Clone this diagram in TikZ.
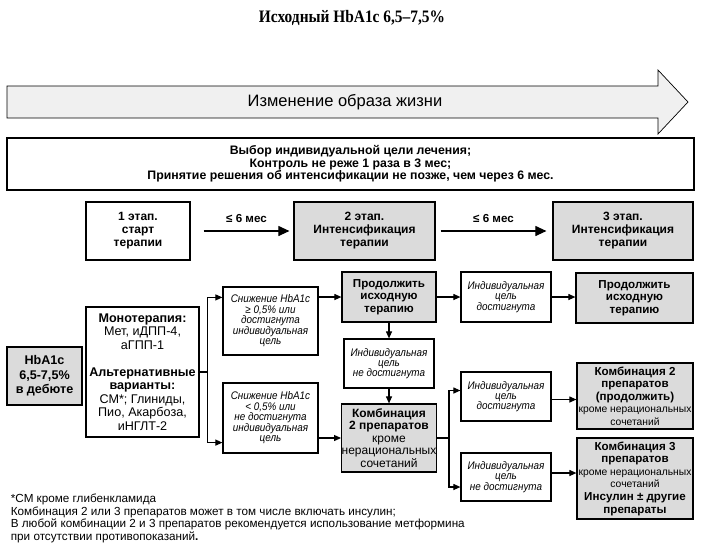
\documentclass[tikz,border=0pt]{standalone}
\usepackage{fontspec}
\setmainfont{Liberation Sans}
\newfontfamily\titlefont[FakeStretch=0.88]{Liberation Serif}
\newfontfamily\narrowfont[FakeStretch=0.9]{Liberation Sans}
\usepackage{tikz}
\usetikzlibrary{shapes, positioning, arrows.meta}

\definecolor{boxgray}{gray}{0.86}
\definecolor{arrowgray}{gray}{0.94}

\begin{document}
\begin{tikzpicture}[->,
x=1pt, y=-1pt,
line width=1.1pt,
>={Triangle[length=7pt,width=6pt]},
big/.style={-{Triangle[length=11pt,width=10pt]}},
block/.style={draw, rectangle, inner sep=0pt, align=center, line width=1.2pt},
wbox/.style={block, fill=white},
gbox/.style={block, fill=boxgray},
bold/.style={font=\fontsize{11.6}{12.6}\selectfont\bfseries},
stage/.style={minimum height=58pt, font=\fontsize{12}{13}\selectfont\bfseries},
note/.style={font=\narrowfont\fontsize{11}{10.2}\selectfont\itshape},
plain/.style={font=\fontsize{12}{12.4}\selectfont}]

\useasboundingbox (0,0) rectangle (712,558);

% heading and lifestyle arrow
\node[font=\titlefont\bfseries\fontsize{17.5}{19}\selectfont]	(title) at (352,18)	{Исходный HbA1c 6,5–7,5\%};
\draw[-, fill=arrowgray, line width=0.7pt] (7,86) -- (658,86) -- (658,70) -- (688,102) -- (658,134) -- (658,118) -- (7,118) -- cycle;
\node[font=\fontsize{16.5}{18}\selectfont]	(life) at (345,102)	{Изменение образа жизни};

\node[wbox, font=\fontsize{12.3}{12.6}\selectfont\bfseries, minimum width=687pt, minimum height=52pt]	(goal) at (350.5,164)	{Выбор индивидуальной цели лечения;\\ Контроль не реже 1 раза в 3 мес;\\ Принятие решения об интенсификации не позже, чем через 6 мес.};

% stages
\node[wbox, stage, minimum width=104pt]	(st1) at (138,231)	{1 этап.\\ старт\\ терапии};
\node[gbox, stage, minimum width=141pt]	(st2) at (364.5,231)	{2 этап.\\ Интенсификация\\ терапии};
\node[gbox, stage, minimum width=140pt]	(st3) at (623,231)	{3 этап.\\ Интенсификация\\ терапии};

% start of therapy
\node[gbox, font=\fontsize{12.6}{14.5}\selectfont\bfseries, minimum width=75pt, minimum height=58pt]	(hba) at (44.5,376)	{HbA1c\\ 6,5-7,5\%\\ в дебюте};
\node[wbox, font=\fontsize{12.6}{13.5}\selectfont, minimum width=113pt, minimum height=130pt]	(mono) at (142.5,372)	{\textbf{Монотерапия:}\\ Мет, иДПП-4,\\ аГПП-1\\[13.5pt] \textbf{Альтернативные}\\ \textbf{варианты:}\\ СМ*; Глиниды,\\ Пио, Акарбоза,\\ иНГЛТ-2};

\node[wbox, note, minimum width=95pt, minimum height=68pt]	(dec1) at (270.5,321)	{Снижение HbA1c\\ ≥ 0,5\% или\\ достигнута\\ индивидуальная\\ цель};
\node[wbox, note, minimum width=95pt, minimum height=70pt]	(dec2) at (270.5,418)	{Снижение HbA1c\\ < 0,5\% или\\ не достигнута\\ индивидуальная\\ цель};

% second stage
\node[gbox, bold, minimum width=94pt, minimum height=50pt]	(cont2) at (389,297)	{Продолжить\\ исходную\\ терапию};
\node[wbox, note, minimum width=90pt, minimum height=49pt]	(miss2) at (389,363.5)	{Индивидуальная\\ цель\\ не достигнута};
\node[gbox, plain, minimum width=94pt, minimum height=68pt]	(comb2) at (389,438)	{\textbf{Комбинация}\\ \textbf{2 препаратов}\\ кроме\\ нерациональных\\ сочетаний};

% third stage
\node[wbox, note, minimum width=90pt, minimum height=50pt]	(hit3) at (506,297)	{Индивидуальная\\ цель\\ достигнута};
\node[gbox, bold, minimum width=117pt, minimum height=50pt]	(cont3) at (634.5,298)	{Продолжить\\ исходную\\ терапию};
\node[wbox, note, minimum width=90pt, minimum height=49pt]	(hit3b) at (506,396.5)	{Индивидуальная\\ цель\\ достигнута};
\node[wbox, note, minimum width=90pt, minimum height=48pt]	(miss3) at (506,477)	{Индивидуальная\\ цель\\ не достигнута};
\node[gbox, bold, minimum width=116pt, minimum height=66pt]	(comb2c) at (635,396)	{Комбинация 2\\ препаратов\\ (продолжить)\\ {\mdseries\fontsize{10.3}{11.5}\selectfont кроме нерациональных}\\ {\mdseries\fontsize{10.3}{11.5}\selectfont сочетаний}};
\node[gbox, bold, minimum width=116pt, minimum height=81pt]	(comb3) at (635,478.5)	{Комбинация 3\\ препаратов\\ {\mdseries\fontsize{10.3}{11.5}\selectfont кроме нерациональных}\\ {\mdseries\fontsize{10.3}{11.5}\selectfont сочетаний}\\ Инсулин ± другие\\ препараты};

% footnote
\node[anchor=north west, align=left, font=\fontsize{11.7}{12.6}\selectfont]	(foot) at (7,490)	{*СМ кроме глибенкламида\\ Комбинация 2 или 3 препаратов может в том числе включать инсулин;\\ В любой комбинации 2 и 3 препаратов рекомендуется использование метформина\\ при отсутствии противопоказаний\textbf{.}};

% connectors
\path[big]
 ([xshift=13pt]st1.east)	edge node[above=5pt, font=\fontsize{11.6}{13}\selectfont\bfseries]	{≤ 6 мес}	([xshift=-4pt]st2.west)
 ([xshift=5pt]st2.east)		edge node[above=5pt, font=\fontsize{11.6}{13}\selectfont\bfseries]	{≤ 6 мес}	([xshift=-6pt]st3.west);

\draw[-] (mono.east) -- ++(8,0) coordinate (fork1);
\draw (fork1) |- ([yshift=-11pt]dec1.north west);
\draw (fork1) |- ([yshift=11pt]dec2.south west);

\path[->]
 (cont2.west -| dec1.east)	edge	(cont2.west)
 (comb2.west -| dec2.east)	edge	(comb2.west)
 (cont2.south)	edge	(miss2.north)
 (miss2.south)	edge	(comb2.north)
 (cont2.east)	edge	(hit3.west)
 (hit3.east)	edge	(hit3.east -| cont3.west)
 ([yshift=-3pt]hit3b.east)	edge	([yshift=-3pt]hit3b.east -| comb2c.west)
 ([yshift=4pt]miss3.east)	edge	([yshift=4pt]miss3.east -| comb3.west);

\draw[-] (comb2.east) -- ++(12,0) coordinate (fork2);
\draw (fork2) |- ([yshift=6pt]hit3b.west);
\draw (fork2) |- ([yshift=-10pt]miss3.west);

\end{tikzpicture}
\end{document}
